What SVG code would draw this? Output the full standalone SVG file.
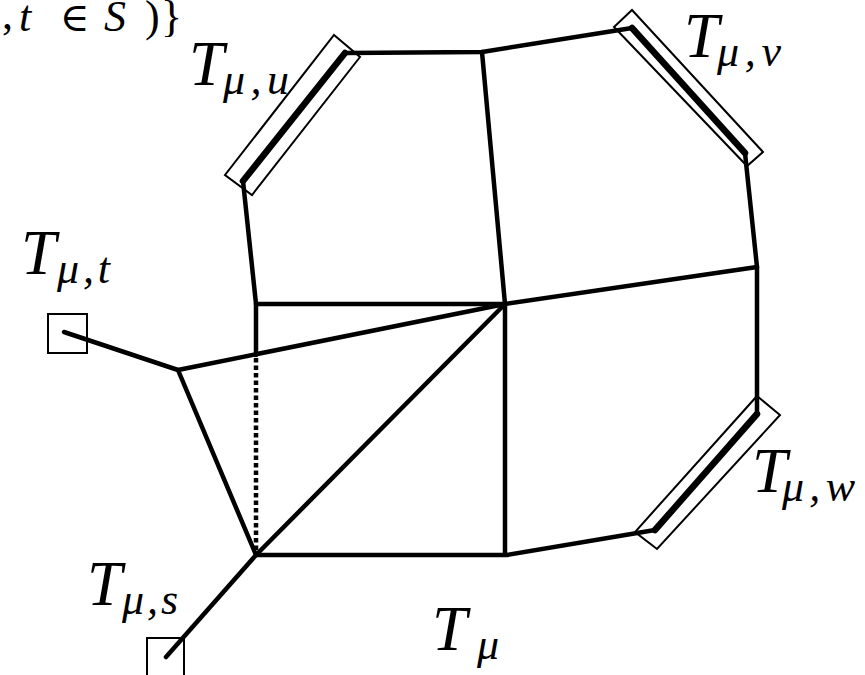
<svg xmlns="http://www.w3.org/2000/svg" width="865" height="675" viewBox="0 0 865 675">
<style>
.e{stroke:#000;stroke-width:4.5;fill:none;stroke-linejoin:round;stroke-linecap:round}
.k{stroke:#000;stroke-width:6.5;fill:none;stroke-linecap:round}
.d{stroke:#000;stroke-width:4.5;fill:none;stroke-dasharray:4.5 3}
.r{stroke:#000;stroke-width:2;fill:none}
.m{font-family:"Liberation Serif","DejaVu Serif",serif;font-style:italic;fill:#000}
.u{font-family:"Liberation Serif","DejaVu Serif",serif;fill:#000}
.T{font-size:63px}
.s{font-size:44px}
</style>
<rect width="865" height="675" fill="#fff"/>
<g id="connectors">
<polyline class="e" points="256,304 243,181 345,53 482,52 632,28 745,153 757,267 757,414 655,530 507,555 256,555 178,370 505,304 505,555"/>
<line class="e" x1="256" y1="304" x2="505" y2="304"/>
<line class="e" x1="256" y1="304" x2="256" y2="355"/>
<line class="d" x1="256" y1="358" x2="256" y2="553"/>
<line class="e" x1="256" y1="555" x2="505" y2="304"/>
<line class="e" x1="482" y1="52" x2="505" y2="304"/>
<line class="e" x1="505" y1="304" x2="757" y2="267"/>
<line class="e" x1="178" y1="370" x2="64" y2="332"/>
<line class="e" x1="256" y1="555" x2="166" y2="657"/>
<line class="k" x1="243" y1="181" x2="345" y2="53"/>
<line class="k" x1="632" y1="28" x2="745" y2="153"/>
<line class="k" x1="757" y1="414" x2="655" y2="530"/>
</g>
<g id="box-u"><polygon class="r" points="334,35 360,57 252,195 225,175"/></g>
<g id="box-v"><polygon class="r" points="632,10 763,152 747,166 614,27"/></g>
<g id="box-w"><polygon class="r" points="757,396 780,415 657,549 635,532"/></g>
<g id="box-t"><rect class="r" x="48" y="314" width="39" height="39"/></g>
<g id="box-s"><rect class="r" x="147" y="638" width="37" height="42"/></g>
<g id="label-top">
<text class="u" x="2" y="29" font-size="44">,</text>
<text class="m" x="19" y="31" font-size="44">t</text>
<text class="u" x="60" y="31" font-size="40" font-family="DejaVu Serif">∈</text>
<text class="m" x="104" y="31" font-size="44">S</text>
<text class="u" x="145" y="31" font-size="44">)</text>
<text class="u" x="161" y="31" font-size="44">}</text>
</g>
<g id="label-u"><text class="m T" x="189" y="85">T</text><text class="m s" x="223" y="94" textLength="66" lengthAdjust="spacing">μ,u</text></g>
<g id="label-v"><text class="m T" x="684" y="57">T</text><text class="m s" x="717" y="66" textLength="64" lengthAdjust="spacing">μ,v</text></g>
<g id="label-t"><text class="m T" x="21" y="274">T</text><text class="m s" x="57" y="283" textLength="53" lengthAdjust="spacing">μ,t</text></g>
<g id="label-w"><text class="m T" x="752" y="492">T</text><text class="m s" x="782" y="501" textLength="73" lengthAdjust="spacing">μ,w</text></g>
<g id="label-s"><text class="m T" x="87" y="605">T</text><text class="m s" x="122" y="614" textLength="56" lengthAdjust="spacing">μ,s</text></g>
<g id="label-mu"><text class="m T" x="432" y="650">T</text><text class="m s" x="477" y="659">μ</text></g>
</svg>
